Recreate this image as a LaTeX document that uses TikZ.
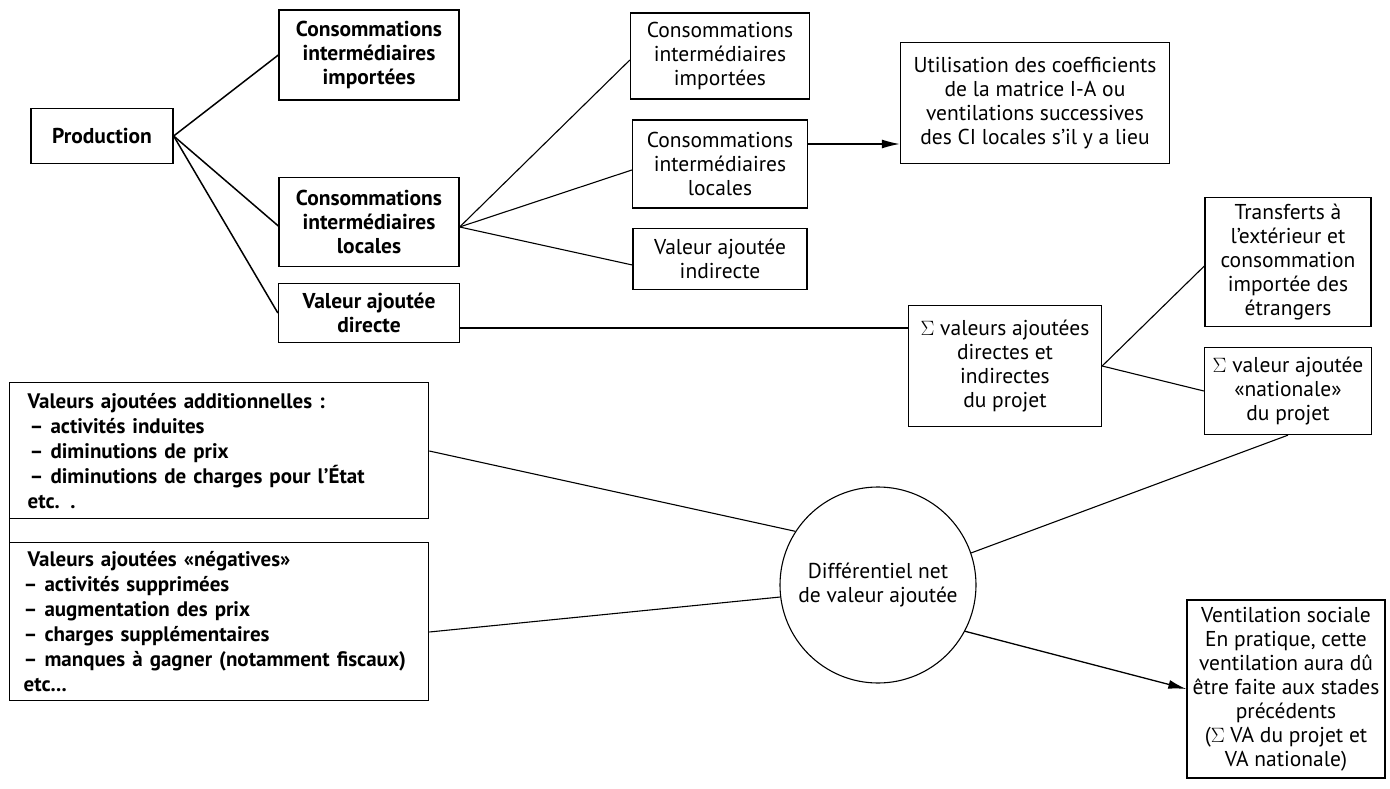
\documentclass[tikz,border=0pt]{standalone}
\usepackage{fontspec}
\setmainfont{PT Sans}
\usetikzlibrary{arrows.meta,calc}
\begin{document}
\begin{tikzpicture}[x=1pt,y=-1pt,
  every node/.style={font=\fontsize{21.5}{24}\selectfont},
  bx/.style={draw,line width=1.3pt,align=center,inner sep=0pt},
  bbx/.style={bx,font=\fontsize{21.5}{24}\selectfont\bfseries},
  lbx/.style={draw,line width=1.3pt,align=left,inner xsep=14pt,inner ysep=0pt,anchor=north west,font=\fontsize{21}{25}\selectfont\bfseries},
  thick conn/.style={line width=1.5pt},
  conn/.style={line width=1.1pt},
  arr/.style={line width=1.3pt,-{Latex[length=18pt,width=9pt]}}]
\useasboundingbox (0,0) rectangle (1390,789);

% left column
\node[bbx,minimum width=142pt,minimum height=55pt] (prod) at (102,136) {Production};
\node[bbx,minimum width=180pt,minimum height=90pt] (cii) at (369,55) {Consommations\\intermédiaires\\importées};
\node[bbx,minimum width=180pt,minimum height=89pt] (cil) at (369,222) {Consommations\\intermédiaires\\locales};
\node[bbx,minimum width=181pt,minimum height=59pt] (vad) at (369,313) {Valeur ajoutée\\directe};

% middle column
\node[bx,minimum width=179pt,minimum height=86pt] (cim) at (720,56) {Consommations\\intermédiaires\\importées};
\node[bx,minimum width=175pt,minimum height=88pt] (clm) at (720,164) {Consommations\\intermédiaires\\locales};
\node[bx,minimum width=174pt,minimum height=61pt] (vai) at (720,259) {Valeur ajoutée\\indirecte};

% right part
\node[bx,minimum width=269pt,minimum height=121pt] (util) at (1035,103) {Utilisation des coefficients\\de la matrice I-A ou\\ventilations successives\\des CI locales s'il y a lieu};
\node[bx,minimum width=166pt,minimum height=129pt] (tr) at (1288,262) {Transferts à\\l'extérieur et\\consommation\\importée des\\étrangers};
\node[bx,minimum width=193pt,minimum height=121pt] (svl) at (1005,366) {$\Sigma$ valeurs ajoutées\\directes et\\indirectes\\du projet};
\node[bx,minimum width=167pt,minimum height=87pt] (snat) at (1288,391) {$\Sigma$ valeur ajoutée\\«nationale»\\du projet};

% bottom-left boxes
\node[lbx,text width=391pt,minimum height=136pt] (tl) at (9,382) {\hspace*{4pt}Valeurs ajoutées additionnelles :\\
\hspace*{6pt}– activités induites\\
\hspace*{6pt}– diminutions de prix\\
\hspace*{6pt}– diminutions de charges pour l'État\\
\hspace*{4pt}etc. .};
\node[lbx,text width=391pt,minimum height=158pt] (bl) at (9,542) {\hspace*{4pt}Valeurs ajoutées «négatives»\\
– activités supprimées\\
– augmentation des prix\\
– charges supplémentaires\\
– manques à gagner (notamment fiscaux)\\
etc...};

% circle
\node[draw,circle,line width=1.1pt,minimum size=196pt,inner sep=0pt,align=center] (diff) at (878,585) {Différentiel net\\de valeur ajoutée};

% ventilation
\node[bx,minimum width=198pt,minimum height=178pt] (vent) at (1286,689) {Ventilation sociale\\En pratique, cette\\ventilation aura dû\\être faite aux stades\\précédents\\($\Sigma$ VA du projet et\\VA nationale)};

% connectors
\draw[thick conn] (prod.east) -- (cii.west);
\draw[thick conn] (prod.east) -- ([yshift=-4pt]cil.west);
\draw[thick conn] (prod.east) -- (vad.west);
\coordinate (cilout) at ([yshift=-5pt]cil.east);
\draw[conn] (cilout) -- ([yshift=-4pt]cim.west);
\draw[conn] (cilout) -- ([yshift=-6pt]clm.west);
\draw[conn] (cilout) -- ([yshift=-6pt]vai.west);
\coordinate (clmout) at ([yshift=20pt]clm.east);
\draw[arr] (clmout) -- (clmout -| util.west);
\coordinate (vadout) at ([yshift=-15pt]vad.east);
\draw[conn] (vadout) -- (vadout -| svl.west);
\draw[conn] (svl.east) -- ([yshift=-4pt]tr.west);
\draw[conn] (svl.east) -- (snat.west);
\draw (tl.south west) -- (bl.north west);
\draw[conn] ([yshift=-69pt]tl.north east) -- (diff.147);
\draw[conn] ([yshift=-90pt]bl.north east) -- (diff.187);
\draw[conn] (diff.19) -- (snat.south);
\draw[arr] (diff.-28) -- (vent.west);
\end{tikzpicture}
\end{document}
